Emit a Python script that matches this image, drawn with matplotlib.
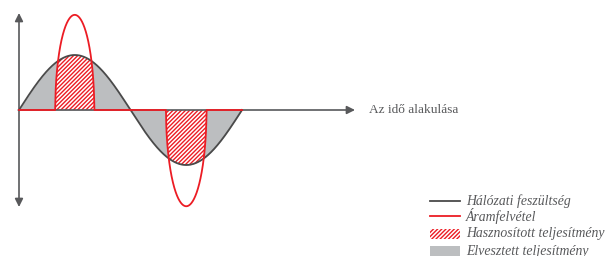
import numpy as np
import matplotlib
matplotlib.use("Agg")
import matplotlib.pyplot as plt
from matplotlib.lines import Line2D
from matplotlib.patches import Rectangle

# ---- data ----
period = 2 * np.pi                      # one mains cycle
voltage_amp = 1.0                       # mains voltage amplitude
current_peaks = [1.73, -1.75]           # peak of current pulses
pulse_centers = [np.pi / 2, 3 * np.pi / 2]
pulse_halfwidth = [0.55, 0.57]
axis_label = "Az idő alakulása"
legend_labels = ["Hálózati feszültség", "Áramfelvétel",
                 "Hasznosított teljesítmény", "Elvesztett teljesítmény"]

# colours
C_VOLT = "#4a4a4a"
C_RED = "#ec1c24"
C_GRAY = "#bcbec0"
C_AXIS = "#58595b"
C_TEXT = "#58595b"

W, H = 616, 256
fig = plt.figure(figsize=(W / 100, H / 100), dpi=100)
ax = fig.add_axes([0, 0, 1, 1])
ax.set_axis_off()

# pixel mapping: t=0 at x=19px, t=2pi at x=242px ; y=0 at 110px, 1 unit = 55px
px_per_t = (242 - 19) / period
px_per_y = 55.0
ax.set_xlim(-19 / px_per_t, (W - 19) / px_per_t)
ax.set_ylim(-(H - 110) / px_per_y, 110 / px_per_y)

t = np.linspace(0, period, 2000)
v = voltage_amp * np.sin(t)

# current: zero except in the pulse windows (elliptic pulses)
cur = np.zeros_like(t)
for c, w, a in zip(pulse_centers, pulse_halfwidth, current_peaks):
    m = np.abs(t - c) <= w
    cur[m] = a * np.sqrt(np.clip(1 - ((t[m] - c) / w) ** 2, 0, 1))

# lost power (gray) under voltage
ax.fill_between(t, 0, v, color=C_GRAY, linewidth=0, zorder=1)

# used power (hatched) inside pulse windows
plt.rcParams['hatch.linewidth'] = 1.0
HATCH = "////////"
for c, w, a in zip(pulse_centers, pulse_halfwidth, current_peaks):
    m = np.abs(t - c) <= w
    tt = t[m]
    vv = v[m]
    cc = cur[m]
    top = np.where(np.sign(a) > 0, np.minimum(vv, cc), np.maximum(vv, cc))
    ax.fill_between(tt, 0, top, facecolor="white", edgecolor=C_RED,
                    hatch=HATCH, linewidth=0, zorder=2)

# horizontal axis with arrow
x_end = (355 - 19) / px_per_t
ax.annotate("", xy=(x_end, 0), xytext=(-0.02, 0),
            arrowprops=dict(arrowstyle="-|>", color=C_AXIS, lw=1.2,
                            mutation_scale=12, shrinkA=0, shrinkB=0), zorder=3)
# vertical axis, double arrow
y_top = (110 - 13) / px_per_y
ax.annotate("", xy=(0, y_top), xytext=(0, -y_top),
            arrowprops=dict(arrowstyle="<|-|>", color=C_AXIS, lw=1.2,
                            mutation_scale=12, shrinkA=0, shrinkB=0), zorder=3)

ax.plot(t, v, color=C_VOLT, lw=1.3, zorder=4)
ax.plot(t, cur, color=C_RED, lw=1.3, zorder=5)

ax.text((369 - 19) / px_per_t, 0, axis_label, family="Liberation Serif",
        fontsize=9.6, color=C_TEXT, va="center", ha="left")

# legend (manual, figure pixel coords)
lax = fig.add_axes([0, 0, 1, 1])
lax.set_axis_off()
lax.set_xlim(0, W)
lax.set_ylim(H, 0)
rows_y = [201, 216, 234, 251]
x0, x1, xt = 430, 460, 466
lax.add_line(Line2D([x0, x1], [rows_y[0], rows_y[0]], color=C_VOLT, lw=1.3))
lax.add_line(Line2D([x0, x1], [rows_y[1], rows_y[1]], color=C_RED, lw=1.3))
lax.add_patch(Rectangle((x0, rows_y[2] - 5), x1 - x0, 10, facecolor="white",
                        edgecolor=C_RED, hatch=HATCH, linewidth=0))
lax.add_patch(Rectangle((x0, rows_y[3] - 5), x1 - x0, 10, facecolor=C_GRAY,
                        linewidth=0))
for y, lab in zip(rows_y, legend_labels):
    lax.text(xt, y, lab, family="Liberation Serif", style="italic",
             fontsize=9.9, color=C_TEXT, va="center", ha="left")

fig.savefig("out.png", dpi=100)
